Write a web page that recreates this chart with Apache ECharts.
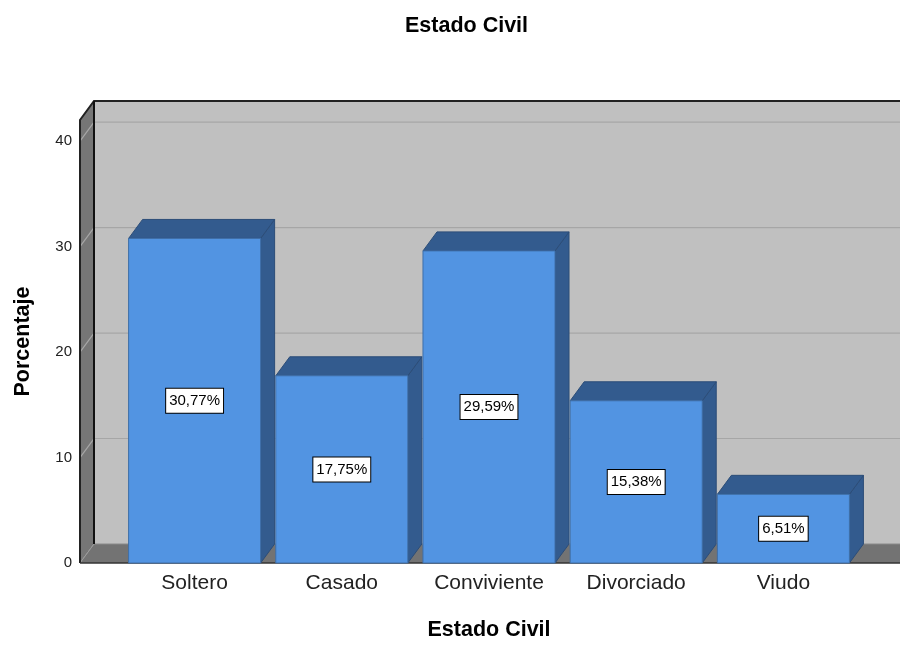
<!DOCTYPE html>
<html>
<head>
<meta charset="utf-8">
<script src="https://cdn.jsdelivr.net/npm/echarts@6/dist/echarts.min.js"></script>
<style>
  html, body { margin: 0; padding: 0; background: #fff; }
  #chart { width: 900px; height: 646px; }
</style>
</head>
<body>
<div id="chart"></div>
<script>
var categories = ['Soltero', 'Casado', 'Conviviente', 'Divorciado', 'Viudo'];
var percentages = [30.77, 17.75, 29.59, 15.38, 6.51];
var gridTicks = [10, 20, 30, 40];

// depth of the fake 3d box, px
var DX = 14, DY = -19;
var WALL_LEFT = 41; // front-left edge sits this far left of the grid
var FONT = "'Liberation Sans', Arial, sans-serif";

var chart = echarts.init(document.getElementById('chart'), null, { renderer: 'canvas' });

function wallItem(params, api) {
    var cs = params.coordSys;
    var xl = cs.x - WALL_LEFT;
    var xr = cs.x + cs.width + 120;
    var yTop = api.coord([0, 42])[1];
    var yBot = api.coord([0, 0])[1];
    var kids = [];
    // back wall
    kids.push({ type: 'polygon', shape: { points: [[xl + DX, yTop + DY], [xr, yTop + DY], [xr, yBot + DY], [xl + DX, yBot + DY]] },
        style: { fill: '#c0c0c0' } });
    // left wall
    kids.push({ type: 'polygon', shape: { points: [[xl, yTop], [xl + DX, yTop + DY], [xl + DX, yBot + DY], [xl, yBot]] },
        style: { fill: '#767676', stroke: '#9a9a9a', lineWidth: 1 } });
    // floor
    kids.push({ type: 'polygon', shape: { points: [[xl, yBot], [xl + DX, yBot + DY], [xr, yBot + DY], [xr, yBot]] },
        style: { fill: '#737373' } });
    // grid lines
    gridTicks.forEach(function (t) {
        var y = api.coord([0, t])[1];
        kids.push({ type: 'polyline', shape: { points: [[xl, y], [xl + DX, y + DY], [xr, y + DY]] },
            style: { stroke: '#a6a6a6', lineWidth: 1.2, fill: null } });
    });
    kids.push({ type: 'line', shape: { x1: xl, y1: yBot, x2: xl + DX, y2: yBot + DY }, style: { stroke: '#9a9a9a', lineWidth: 1 } });
    kids.push({ type: 'line', shape: { x1: xl + DX, y1: yBot + DY, x2: xr, y2: yBot + DY }, style: { stroke: '#8a8a8a', lineWidth: 1 } });
    // dark edges
    kids.push({ type: 'polyline', shape: { points: [[xl, yBot], [xl, yTop], [xl + DX, yTop + DY], [xr, yTop + DY]] },
        style: { stroke: '#222', lineWidth: 2, fill: null } });
    kids.push({ type: 'line', shape: { x1: xl + DX, y1: yTop + DY, x2: xl + DX, y2: yBot + DY }, style: { stroke: '#111', lineWidth: 2 } });
    kids.push({ type: 'line', shape: { x1: xl, y1: yBot, x2: xr, y2: yBot }, style: { stroke: '#333', lineWidth: 1.5 } });
    return { type: 'group', children: kids };
}

function barItem(params, api) {
    var idx = api.value(0);
    var v = api.value(1);
    var top = api.coord([idx, v]);
    var base = api.coord([idx, 0]);
    var bw = api.size([1, 0])[0] * 0.897;
    var x0 = top[0] - bw / 2, x1 = top[0] + bw / 2;
    var yT = top[1], yB = base[1];
    var edge = '#2c4d78';
    var txt = v.toFixed(2).replace('.', ',') + '%';
    return {
        type: 'group',
        children: [
            { type: 'polygon', shape: { points: [[x1, yT], [x1 + DX, yT + DY], [x1 + DX, yB + DY], [x1, yB]] },
              style: { fill: '#335b8e', stroke: edge, lineWidth: 1 } },
            { type: 'polygon', shape: { points: [[x0, yT], [x0 + DX, yT + DY], [x1 + DX, yT + DY], [x1, yT]] },
              style: { fill: '#335b8e', stroke: edge, lineWidth: 1 } },
            { type: 'rect', shape: { x: x0, y: yT, width: bw, height: yB - yT },
              style: { fill: '#5294e2', stroke: '#3f6fa8', lineWidth: 1 } },
            { type: 'text', x: top[0], y: (yT + yB) / 2,
              style: { text: txt, fill: '#000', font: '15px ' + FONT, align: 'center', verticalAlign: 'middle',
                       backgroundColor: '#fff', borderColor: '#000', borderWidth: 1, padding: [5, 3, 4, 3] } }
        ]
    };
}

var barData = percentages.map(function (p, i) { return [i, p]; });

chart.setOption({
    animation: false,
    title: {
        text: 'Estado Civil',
        left: 400,
        top: 10,
        textStyle: { fontFamily: FONT, fontSize: 21.5, fontWeight: 'bold', color: '#000' }
    },
    grid: { left: 121, right: 43, top: 120, bottom: 79, containLabel: false },
    xAxis: {
        type: 'category',
        data: categories,
        name: 'Estado Civil',
        nameLocation: 'middle',
        nameGap: 56,
        nameTextStyle: { fontFamily: FONT, fontSize: 21.5, fontWeight: 'bold', color: '#000' },
        axisLine: { show: false },
        axisTick: { show: false },
        axisLabel: { fontFamily: FONT, fontSize: 21, color: '#222', margin: 10 }
    },
    yAxis: {
        type: 'value',
        min: 0,
        max: 42,
        interval: 10,
        offset: WALL_LEFT,
        name: 'Porcentaje',
        nameLocation: 'middle',
        nameGap: 46,
        nameRotate: 90,
        nameTextStyle: { fontFamily: FONT, fontSize: 21.5, fontWeight: 'bold', color: '#000' },
        axisLine: { show: false },
        axisTick: { show: false },
        splitLine: { show: false },
        axisLabel: {
            fontFamily: FONT, fontSize: 15, color: '#222', margin: 8,
            showMaxLabel: false,
            formatter: function (v) { return v % 10 === 0 ? String(v) : ''; }
        }
    },
    series: [
        { type: 'custom', name: 'walls', z: 1, renderItem: wallItem, data: [[0, 0]], silent: true },
        { type: 'custom', name: 'Porcentaje', z: 2, renderItem: barItem, data: barData }
    ]
});
</script>
</body>
</html>
